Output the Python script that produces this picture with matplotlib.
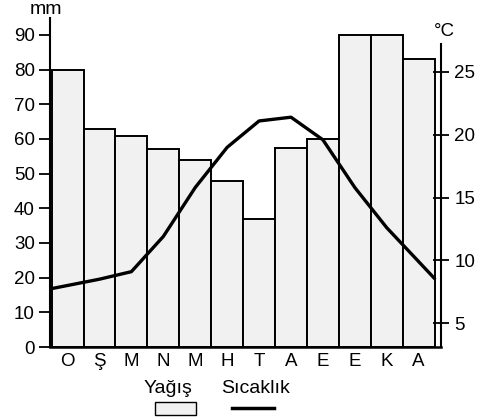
import matplotlib.pyplot as plt
from matplotlib.patches import Rectangle
from matplotlib.lines import Line2D
import numpy as np

plt.rcParams['font.family'] = ['Liberation Sans', 'DejaVu Sans']

# monthly precipitation (mm) and temperature (degC)
months = ['O', 'Ş', 'M', 'N', 'M', 'H', 'T', 'A', 'E', 'E', 'K', 'A']
yagis = [80, 63, 61, 57, 54, 48, 37, 57.5, 60, 90, 90, 83]
sicaklik = [8.0, 8.5, 9.1, 11.9, 15.8, 19.0, 21.1, 21.4, 19.6, 15.8, 12.6, 9.9]
mm_ticks = [0, 10, 20, 30, 40, 50, 60, 70, 80, 90]
c_ticks = [5, 10, 15, 20, 25]

W, H = 488, 419
fs = 13.5
fig = plt.figure(figsize=(W / 100, H / 100), dpi=100)
ax = fig.add_axes([50 / W, 72 / H, 391 / W, 329 / H])

x = np.arange(len(months))
ax.bar(x, yagis, width=1.0, color='#f1f1f1', edgecolor='black', linewidth=1.4)
ax.set_xlim(-0.55, 11.7)
ax.set_ylim(0, 94.9)
ax.set_xticks(x)
ax.set_xticklabels(months, fontsize=fs)
ax.tick_params(axis='x', length=0, pad=4)
ax.set_yticks(mm_ticks)
ax.tick_params(axis='y', direction='out', length=8, width=1.3, labelsize=fs, pad=3)
for s in ['top', 'right']:
    ax.spines[s].set_visible(False)
ax.spines['left'].set_linewidth(1.5)
ax.spines['bottom'].set_linewidth(1.8)

# temperature on its own scale, extended linearly to the bar edges
ax2 = ax.twinx()
ax2.set_ylim(3.1, 29.3)
xt = np.concatenate([[-0.5], x, [11.5]])
t0 = sicaklik[0] - (sicaklik[1] - sicaklik[0]) / 2
t1 = sicaklik[-1] + (sicaklik[-1] - sicaklik[-2]) / 2
yt = np.concatenate([[t0], sicaklik, [t1]])
ax2.plot(xt, yt, color='black', linewidth=2.4, solid_capstyle='round',
         solid_joinstyle='round')
ax2.set_yticks(c_ticks)
ax2.tick_params(axis='y', direction='inout', length=11, width=1.3, labelsize=fs, pad=4)
for s in ['top', 'left', 'bottom']:
    ax2.spines[s].set_visible(False)
ax2.spines['right'].set_linewidth(1.5)
ax2.spines['right'].set_bounds(3.1, 27.2)

fig.text(46 / W, 1 - 9 / H, 'mm', fontsize=14, ha='center', va='center')
fig.text(444 / W, 1 - 32 / H, '°C', fontsize=13.5, ha='center', va='center')

# legend underneath
fig.text(168 / W, 1 - 388 / H, 'Yağış', fontsize=14, ha='center', va='center')
fig.text(256 / W, 1 - 388 / H, 'Sıcaklık', fontsize=14, ha='center', va='center')
fig.patches.append(Rectangle((155 / W, 1 - 415 / H), 41 / W, 13 / H,
                             transform=fig.transFigure, facecolor='#f1f1f1',
                             edgecolor='black', linewidth=1.0))
fig.lines.append(Line2D([232 / W, 274 / W], [1 - 408 / H, 1 - 408 / H],
                        transform=fig.transFigure, color='black', linewidth=2.5))

fig.savefig('out.png', dpi=100)
